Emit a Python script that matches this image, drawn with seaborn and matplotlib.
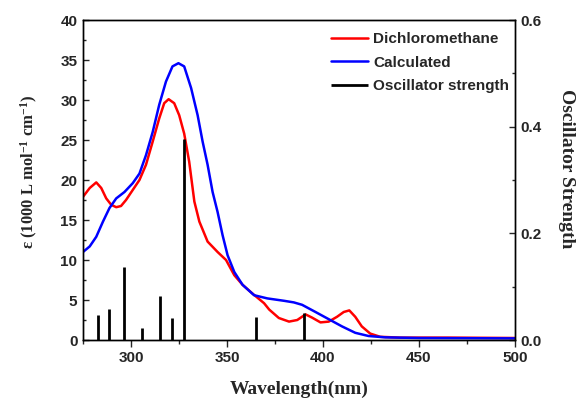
import numpy as np
import pandas as pd
import matplotlib
matplotlib.use("Agg")
import matplotlib.pyplot as plt
import seaborn as sns

# Données
wl_dcm = [275, 278.5, 281.9, 284.5, 287.1, 289.7, 292.3, 294.8, 297.4, 300.9,
          304.4, 307.8, 311.3, 314.7, 317.3, 319.6, 322.5, 325.1, 327.7, 330.3,
          333, 335.6, 339.9, 345.1, 349.5, 353.8, 358.1, 363.3, 369.3, 372,
          377, 382.3, 386.6, 390.9, 394.3, 398.7, 403, 407.3, 410.8, 413.7,
          416.8, 420.2, 424.6, 429.8, 440, 465, 500]
eps_dcm = [17.9, 19.0, 19.7, 19.0, 17.7, 16.9, 16.6, 16.75, 17.5, 18.75,
           20.0, 21.9, 24.8, 27.7, 29.6, 30.1, 29.6, 28.1, 25.8, 22.3,
           17.3, 14.8, 12.3, 11.0, 10.0, 8.1, 6.9, 5.8, 4.6, 3.8,
           2.75, 2.3, 2.5, 3.2, 2.8, 2.2, 2.3, 2.9, 3.5, 3.7,
           2.9, 1.7, 0.8, 0.4, 0.3, 0.3, 0.25]

wl_calc = [275, 278.5, 281.9, 285.4, 288.8, 292.3, 296.6, 300.9, 304.4, 307.8,
           311.3, 314.7, 318.2, 321.6, 324.7, 327.7, 331.3, 334.7, 337.3, 339.9,
           342.5, 345.1, 347.7, 350.3, 353.8, 358.1, 364.1, 371, 379.7, 384.8,
           389.1, 396.1, 403, 409.9, 416.8, 423.7, 432.4, 450, 500]
eps_calc = [11.0, 11.7, 12.9, 14.8, 16.5, 17.7, 18.5, 19.6, 20.8, 23.1,
            26.0, 29.4, 32.3, 34.2, 34.6, 34.2, 31.5, 28.1, 24.8, 21.9,
            18.5, 16.0, 13.1, 10.6, 8.5, 6.9, 5.6, 5.2, 4.9, 4.7,
            4.4, 3.5, 2.6, 1.7, 0.9, 0.5, 0.33, 0.25, 0.2]

wl_osc = [282.9, 288.6, 296.6, 305.9, 315.1, 321.6, 327.8, 365.2, 390.0]
f_osc = [0.047, 0.059, 0.137, 0.022, 0.083, 0.041, 0.377, 0.044, 0.050]

sns.set_style("ticks")
plt.rcParams["font.family"] = ["Liberation Sans", "DejaVu Sans"]
plt.rcParams["font.weight"] = "bold"
plt.rcParams["mathtext.fontset"] = "custom"
plt.rcParams["mathtext.rm"] = "Liberation Serif:bold"
plt.rcParams["mathtext.it"] = "Liberation Serif:bold"
plt.rcParams["mathtext.bf"] = "Liberation Serif:bold"
plt.rcParams["mathtext.default"] = "rm"
plt.rcParams["lines.solid_joinstyle"] = "round"

fig = plt.figure(figsize=(5.77, 4.0), dpi=100)
ax = fig.add_axes([83 / 577, 60 / 400, 432 / 577, 320 / 400])
ax2 = ax.twinx()

df_dcm = pd.DataFrame({"wl": wl_dcm, "eps": eps_dcm})
df_calc = pd.DataFrame({"wl": wl_calc, "eps": eps_calc})

sns.lineplot(data=df_dcm, x="wl", y="eps", ax=ax, color="#ff0000", lw=1.8,
             sort=False, label="Dichloromethane", legend=False)
sns.lineplot(data=df_calc, x="wl", y="eps", ax=ax, color="#0000ff", lw=1.8,
             sort=False, label="Calculated", legend=False)
ax2.vlines(wl_osc, 0, f_osc, color="black", lw=2.0, label="Oscillator strength")

ax.set_xlim(275, 500)
ax.set_ylim(0, 40)
ax2.set_ylim(0, 0.6)

ax.set_xticks([300, 350, 400, 450, 500])
ax.set_xticks(np.arange(275, 501, 25), minor=True)
ax.set_yticks(np.arange(0, 41, 5))
ax.set_yticks(np.arange(0, 40.1, 2.5), minor=True)
ax2.set_yticks([0.0, 0.2, 0.4, 0.6])
ax2.set_yticks([0.1, 0.3, 0.5], minor=True)
ax2.set_yticklabels(["0.0", "0.2", "0.4", "0.6"])

ax.tick_params(axis="x", which="major", direction="out", length=5, width=1.0,
               labelsize=11, pad=3)
ax.tick_params(axis="x", which="minor", direction="out", length=3, width=1.0)
ax.tick_params(axis="y", which="major", direction="in", length=4, width=1.0,
               labelsize=11, pad=4)
ax.tick_params(axis="y", which="minor", direction="in", length=2.5, width=1.0)
ax2.tick_params(axis="y", which="major", direction="in", length=4, width=1.0,
                labelsize=11, pad=4)
ax2.tick_params(axis="y", which="minor", direction="in", length=2.5, width=1.0)

for a in (ax, ax2):
    for s in a.spines.values():
        s.set_visible(True)
        s.set_linewidth(1.0)
        s.set_color("black")

for lab in ax.get_xticklabels() + ax.get_yticklabels() + ax2.get_yticklabels():
    lab.set_fontweight("bold")

ax.set_xlabel("Wavelength(nm)", family="Liberation Serif", fontsize=14,
              fontweight="bold", labelpad=11)
ax.set_ylabel("ε (1000 L mol$^{-1}$ cm$^{-1}$)", family="Liberation Serif",
              fontsize=12, fontweight="bold")
ax.yaxis.set_label_coords(-0.10, 0.525)
ax2.set_ylabel("Oscillator Strength", family="Liberation Serif", fontsize=14,
               fontweight="bold", rotation=270, va="center")
ax2.yaxis.set_label_coords(1.12, 0.534)

h1, l1 = ax.get_legend_handles_labels()
h2, l2 = ax2.get_legend_handles_labels()
leg = ax2.legend(h1 + h2, l1 + l2, loc="upper left", bbox_to_anchor=(0.574, 0.962),
                 frameon=False, borderpad=0, borderaxespad=0, handlelength=2.4,
                 handletextpad=0.35, labelspacing=0.62,
                 prop={"family": "Liberation Sans", "weight": "bold", "size": 11})

fig.savefig("out.png", dpi=100)
